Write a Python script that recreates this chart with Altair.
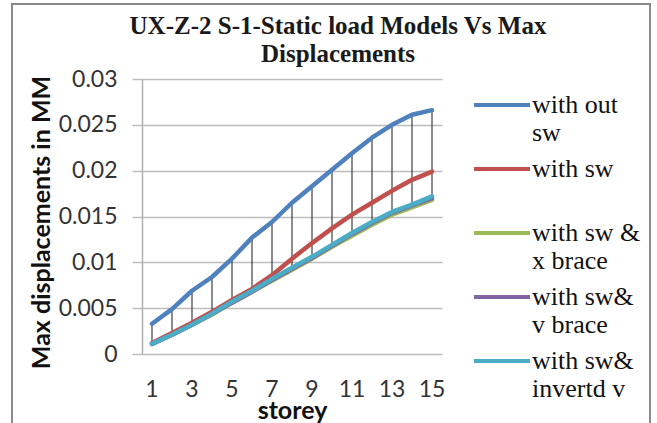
import json

import altair as alt
import pandas as pd

# storey numbers on the x axis
storeys = list(range(1, 16))

series_names = [
    "with out sw",
    "with sw",
    "with sw & x brace",
    "with sw& v brace",
    "with sw& invertd v",
]
series_colors = ["#4F81BD", "#C0504D", "#9BBB59", "#8064A2", "#4BACC6"]

# maximum displacement (mm) per storey for each model
with_out_sw = [0.0033, 0.0049, 0.0069, 0.0084, 0.0104, 0.0127, 0.0144, 0.0165,
               0.0183, 0.0201, 0.0219, 0.0236, 0.0250, 0.0261, 0.0266]
with_sw = [0.0012, 0.0023, 0.0034, 0.0046, 0.0059, 0.0071, 0.0086, 0.0104,
           0.0121, 0.0137, 0.0152, 0.0165, 0.0178, 0.0190, 0.0199]
with_sw_x_brace = [0.0011, 0.0021, 0.0032, 0.0043, 0.0056, 0.0068, 0.0080, 0.0092,
                   0.0104, 0.0117, 0.0129, 0.0141, 0.0152, 0.0160, 0.0168]
with_sw_v_brace = [0.0011, 0.0021, 0.0032, 0.0044, 0.0056, 0.0068, 0.0081, 0.0093,
                   0.0105, 0.0118, 0.0131, 0.0143, 0.0154, 0.0162, 0.0170]
with_sw_inverted_v = [0.0011, 0.0021, 0.0032, 0.0044, 0.0057, 0.0069, 0.0082, 0.0094,
                      0.0106, 0.0119, 0.0132, 0.0144, 0.0155, 0.0163, 0.0172]

y_ticks = [0, 0.005, 0.01, 0.015, 0.02, 0.025, 0.03]
x_tick_labels = [1, 3, 5, 7, 9, 11, 13, 15]

# legend labels are wrapped onto two lines
legend_lines = {
    "with out sw": ["with out", "sw"],
    "with sw": ["with sw", " "],
    "with sw & x brace": ["with sw &", "x brace"],
    "with sw& v brace": ["with sw&", "v brace"],
    "with sw& invertd v": ["with sw&", "invertd v"],
}
label_expr = "".join(
    f"datum.label === {json.dumps(k)} ? {json.dumps(v)} : " for k, v in legend_lines.items()
) + "datum.label"

all_series = [with_out_sw, with_sw, with_sw_x_brace, with_sw_v_brace, with_sw_inverted_v]
df = pd.DataFrame(
    [
        {"storey": s, "series": name, "value": v}
        for name, vals in zip(series_names, all_series)
        for s, v in zip(storeys, vals)
    ]
)

SANS = "Lato"
SERIF = "Liberation Serif"
Y_TITLE = "Max displacements in MM"

x_enc = alt.X(
    "storey:O",
    title="storey",
    axis=alt.Axis(
        values=x_tick_labels,
        labelAngle=0,
        ticks=False,
        domain=False,
        grid=False,
        labelPadding=24,
        labelBaseline="top",
        titleY=44,
        titleBaseline="top",
    ),
)
y_scale = alt.Scale(domain=[0, 0.03], nice=False, zero=True)
y_axis = alt.Axis(
    values=y_ticks,
    format="~g",
    grid=True,
    ticks=True,
    tickSize=10,
    domain=True,
    labelPadding=15,
    titleAngle=270,
    titleX=-101,
    titleY=143,
    titleAlign="center",
    titleBaseline="middle",
)

# outer chart frame
frame = alt.Chart(pd.DataFrame({"f": [0]})).mark_rect(
    fill=None, stroke="#8a8a8a", strokeWidth=2
).encode(
    x=alt.value(-130), x2=alt.value(508), y=alt.value(-75), y2=alt.value(370)
)

# high-low lines joining the largest and smallest value of each storey
hilo = alt.Chart(df).mark_rule(color="#1a1a1a", strokeWidth=1).encode(
    x=x_enc,
    y=alt.Y("max(value):Q", scale=y_scale, axis=y_axis, title=Y_TITLE),
    y2="min(value):Q",
)

lines = alt.Chart(df).mark_line(strokeWidth=4.5, strokeCap="round", strokeJoin="round").encode(
    x=x_enc,
    y=alt.Y("value:Q", scale=y_scale, axis=y_axis, title=Y_TITLE),
    color=alt.Color(
        "series:N",
        scale=alt.Scale(domain=series_names, range=series_colors),
        legend=alt.Legend(
            title=None,
            orient="none",
            legendX=347,
            legendY=13,
            padding=0,
            # long horizontal stroke on a small nominal symbol size
            symbolType="M-2.8,0L2.8,0",
            symbolSize=400,
            symbolStrokeWidth=4,
            labelFont=SERIF,
            labelFontSize=26,
            labelColor="#111111",
            labelExpr=label_expr,
            labelOffset=17,
            labelLimit=300,
            labelBaseline="middle",
            rowPadding=10,
        ),
    ),
    order=alt.Order("storey:O"),
    detail="series:N",
)

chart = alt.layer(frame, hilo, lines).properties(
    width=300,
    height=275,
    autosize=alt.AutoSizeParams(type="none"),
    padding={"left": 142, "top": 79, "right": 215, "bottom": 69},
    title=alt.Title(
        ["UX-Z-2 S-1-Static load Models Vs Max", "Displacements"],
        font=SERIF,
        fontSize=25,
        fontWeight="bold",
        color="#1a1a1a",
        anchor="middle",
        frame="group",
        dx=46,
        dy=74,
        offset=10,
        lineHeight=28,
    ),
).configure(
    background="white",
).configure_view(
    stroke=None,
).configure_axis(
    labelFont=SANS,
    labelFontSize=23,
    labelColor="#333333",
    titleFont=SANS,
    titleFontSize=25,
    titleFontWeight="bold",
    titleColor="#111111",
    gridColor="#bdbdbd",
    gridWidth=1.5,
    tickColor="#bdbdbd",
    tickWidth=1.5,
    domainColor="#b0b0b0",
    domainWidth=1.5,
)

chart.save("out.html", embed_options={"renderer": "svg", "actions": False})
